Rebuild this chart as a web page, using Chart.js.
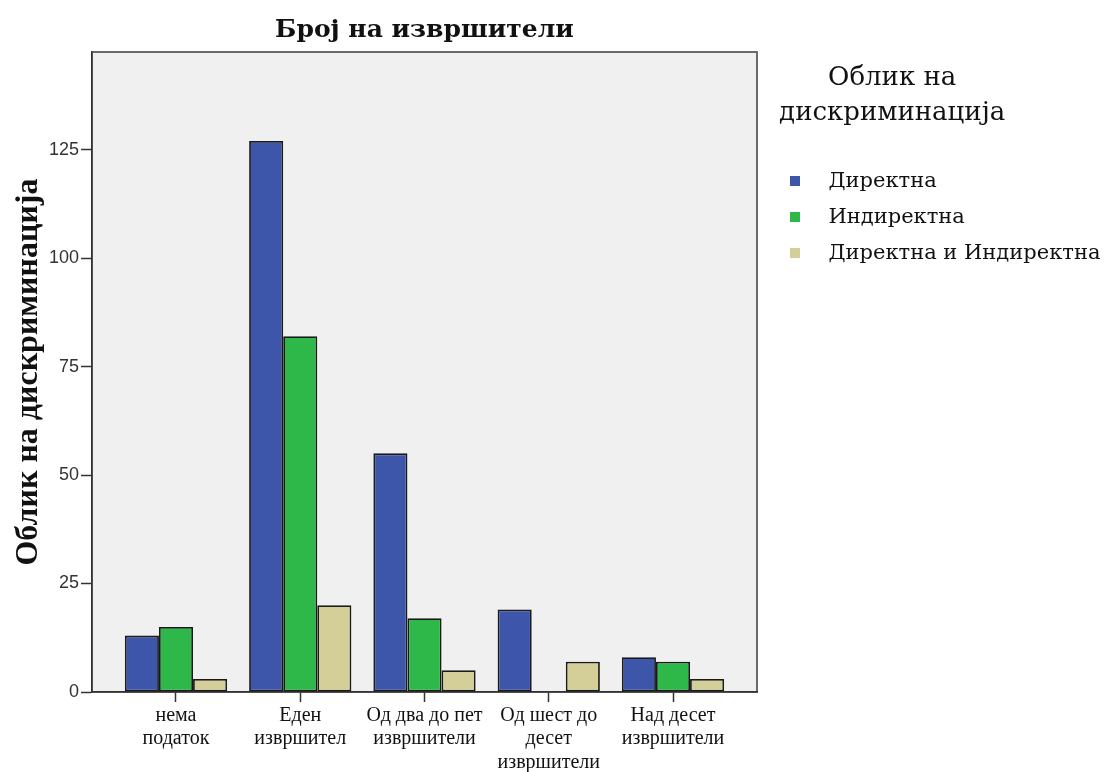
<!DOCTYPE html>
<html>
<head>
<meta charset="utf-8">
<script src="https://cdn.jsdelivr.net/npm/chart.js@4"></script>
<style>
  body { margin: 0; background: #fff; }
  #wrap { width: 1110px; height: 772px; }
</style>
</head>
<body>
<div id="wrap"><canvas id="myChart"></canvas></div>
<script>

// values
var categories = [
  ['нема', 'податок'],
  ['Еден', 'извршител'],
  ['Од два до пет', 'извршители'],
  ['Од шест до', 'десет', 'извршители'],
  ['Над десет', 'извршители']
];
var seriesNames = ['Директна', 'Индиректна', 'Директна и Индиректна'];
var direktna = [13, 127, 55, 19, 8];
var indirektna = [15, 82, 17, 0, 7];
var dvete = [3, 20, 5, 7, 3];
var yTicks = [0, 25, 50, 75, 100, 125];

var colors = ['#3e56aa', '#2fb84a', '#d4cf98'];
var positions = categories.map(function(c, i) { return i + 1; });

// legend marker: small square inside a wider transparent box
function marker(color) {
  var c = document.createElement('canvas');
  c.width = 46; c.height = 10;
  var g = c.getContext('2d');
  g.fillStyle = color;
  g.fillRect(18, 0, 10, 10);
  return c;
}

var plotFrame = {
  id: 'plotFrame',
  beforeDraw: function(chart) {
    var a = chart.chartArea, ctx = chart.ctx;
    ctx.save();
    ctx.fillStyle = '#f0f0f0';
    ctx.fillRect(a.left, a.top, a.right - a.left, a.bottom - a.top);
    ctx.strokeStyle = '#6a6a6a';
    ctx.lineWidth = 2;
    ctx.strokeRect(a.left, a.top, a.right - a.left, a.bottom - a.top);
    ctx.restore();
  }
};

document.addEventListener("DOMContentLoaded", function()
{
  var revenueChart = document.getElementById("myChart");
  var pad = '          ';

  new Chart(revenueChart, {
    type: 'bar',
    data: {
      labels: positions,
      datasets: [
        { label: seriesNames[0], data: direktna, backgroundColor: colors[0] },
        { label: seriesNames[1], data: indirektna, backgroundColor: colors[1] },
        { label: seriesNames[2], data: dvete, backgroundColor: colors[2] }
      ]
    },
    options: {
      responsive: true,
      maintainAspectRatio: false,
      animation: false,
      layout: { padding: 0 },
      datasets: {
        bar: {
          borderColor: '#1a1a1a',
          borderWidth: 1.8,
          borderSkipped: false,
          categoryPercentage: 0.823,
          barPercentage: 1
        }
      },
      scales: {
        x: {
          type: 'linear',
          offset: false,
          min: 0.324,
          max: 5.676,
          afterBuildTicks: function(axis) {
            axis.ticks = positions.map(function(v) { return { value: v }; });
          },
          afterFit: function(axis) { axis.height = 80; },
          ticks: {
            autoSkip: false,
            maxRotation: 0,
            padding: 2,
            color: '#111',
            font: { family: 'Liberation Serif', size: 20, lineHeight: 1.17 },
            callback: function(v) { return categories[positions.indexOf(v)]; }
          },
          grid: { offset: false, drawOnChartArea: false, tickLength: 10, tickColor: '#333', tickWidth: 1.5 },
          border: { color: '#333', width: 1.5 }
        },
        y: {
          min: 0,
          max: 147.5,
          afterBuildTicks: function(axis) {
            axis.ticks = yTicks.map(function(v) { return { value: v }; });
          },
          afterFit: function(axis) { axis.width = 92; },
          ticks: {
            padding: 2,
            color: '#333',
            font: { family: 'Liberation Sans', size: 18 }
          },
          grid: { drawOnChartArea: false, tickLength: 11, tickColor: '#333', tickWidth: 1.5 },
          border: { color: '#333', width: 1.5 },
          title: {
            display: true,
            text: 'Облик на дискриминација',
            color: '#111',
            font: { family: 'Liberation Serif', size: 32, weight: 'bold', lineHeight: 1.2 },
            padding: { top: 10, bottom: 0 }
          }
        }
      },
      plugins: {
        title: {
          display: true,
          text: 'Број на извршители',
          fullSize: false,
          color: '#111',
          font: { family: 'DejaVu Serif', size: 25, weight: 'bold', lineHeight: 1.2 },
          padding: { top: 15, bottom: 7 }
        },
        legend: {
          position: 'right',
          align: 'start',
          maxWidth: 353,
          title: {
            display: true,
            text: ['Облик на' + pad, 'дискриминација' + pad],
            color: '#111',
            font: { family: 'DejaVu Serif', size: 26, lineHeight: 1.346 },
            padding: { top: 65, bottom: 56 }
          },
          labels: {
            usePointStyle: true,
            pointStyleWidth: 46,
            boxHeight: 10,
            padding: 15,
            color: '#111',
            font: { family: 'DejaVu Serif', size: 21 },
            generateLabels: function(chart) {
              return Chart.defaults.plugins.legend.labels.generateLabels(chart).map(function(item, i) {
                item.pointStyle = marker(colors[i]);
                return item;
              });
            }
          }
        },
        tooltip: { enabled: false }
      }
    },
    plugins: [plotFrame]
  });
})
</script>
</body>
</html>
